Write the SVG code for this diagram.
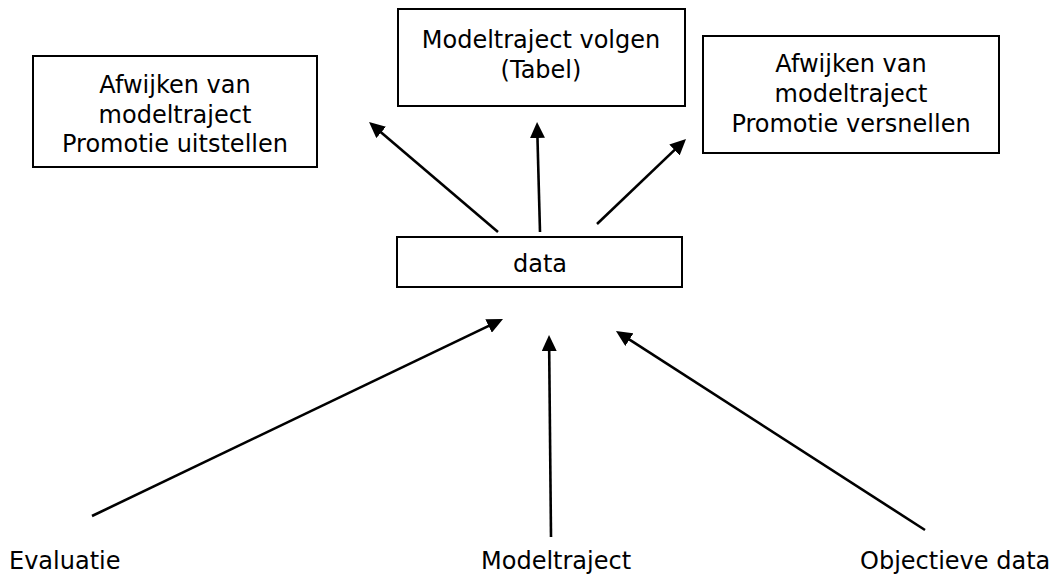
<svg xmlns="http://www.w3.org/2000/svg" width="1053" height="575" viewBox="0 0 1053 575">
<style>
.box{fill:#fff;stroke:#000;stroke-width:2}
.t{font-family:"DejaVu Sans",Verdana,sans-serif;font-size:24px;fill:#000;text-anchor:middle}
.tl{font-family:"DejaVu Sans",Verdana,sans-serif;font-size:24px;fill:#000}
.c{stroke:#000;stroke-width:2.6;fill:none;marker-end:url(#ah)}
</style>
<defs>
<marker id="ah" markerUnits="userSpaceOnUse" markerWidth="16" markerHeight="15" refX="10" refY="7.5" orient="auto">
<path d="M0,0 L16,7.5 L0,15 Z" fill="#000"/>
</marker>
</defs>
<rect width="1053" height="575" fill="#fff"/>
<g id="connectors">
<line class="c" x1="498" y1="232" x2="373.6" y2="125.9"/>
<line class="c" x1="540" y1="232" x2="537.2" y2="128"/>
<line class="c" x1="597" y1="224" x2="681.7" y2="143.1"/>
<line class="c" x1="92" y1="516" x2="497.6" y2="321.6"/>
<line class="c" x1="551" y1="537" x2="549.1" y2="341"/>
<line class="c" x1="925" y1="530" x2="621" y2="334.2"/>
</g>
<g id="node-uitstellen">
<rect class="box" x="33" y="56" width="284" height="111"/>
<text class="t" x="175" y="93">Afwijken van</text>
<text class="t" x="175" y="123">modeltraject</text>
<text class="t" x="175" y="152">Promotie uitstellen</text>
</g>
<g id="node-volgen">
<rect class="box" x="398" y="9" width="287" height="97"/>
<text class="t" x="541" y="48">Modeltraject volgen</text>
<text class="t" x="541" y="78">(Tabel)</text>
</g>
<g id="node-versnellen">
<rect class="box" x="703" y="36" width="296" height="117"/>
<text class="t" x="851" y="72">Afwijken van</text>
<text class="t" x="851" y="102">modeltraject</text>
<text class="t" x="851" y="132">Promotie versnellen</text>
</g>
<g id="node-data">
<rect class="box" x="397" y="237" width="285" height="50"/>
<text class="t" x="540" y="272">data</text>
</g>
<g id="node-evaluatie">
<text class="tl" x="9" y="569">Evaluatie</text>
</g>
<g id="node-modeltraject">
<text class="tl" x="481" y="569">Modeltraject</text>
</g>
<g id="node-objectieve">
<text class="tl" x="860" y="569">Objectieve data</text>
</g>
</svg>
